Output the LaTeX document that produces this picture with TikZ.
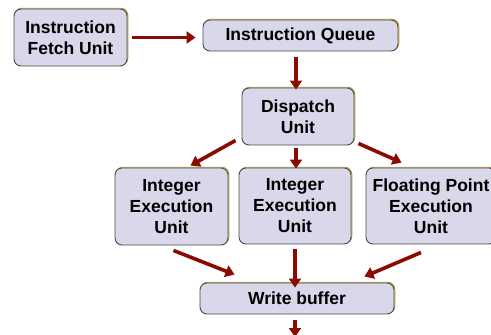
\documentclass[tikz,border=0pt]{standalone}
\usepackage{fontspec}
\setmainfont{Liberation Sans}
\usetikzlibrary{arrows.meta}
\definecolor{boxfill}{HTML}{D8D8EA}
\definecolor{boxedge}{HTML}{4A4A4A}
\definecolor{boxgold}{HTML}{B8962E}
\definecolor{arrowred}{HTML}{8B0A00}
\tikzset{
  unitbox/.style={draw=boxedge, line width=0.9pt, fill=boxfill, rounded corners=7pt,
    font=\fontsize{17.5}{21}\selectfont\bfseries, align=center, inner sep=0pt,
    preaction={draw=boxgold, line width=0.9pt, transform canvas={xshift=0.8pt,yshift=0.8pt}}},
  flow/.style={draw=arrowred, line width=3.6pt, -{Triangle[width=12pt,length=9pt]}, shorten >=0pt}
}
\begin{document}
\begin{tikzpicture}[x=1pt,y=1pt]
\useasboundingbox (0,0) rectangle (491,-335);
\node[unitbox, minimum width=113pt, minimum height=57pt] (fetch) at (70.5,-37.5) {Instruction\\Fetch Unit};
\node[unitbox, minimum width=195pt, minimum height=31pt] (queue) at (300.5,-35.5) {Instruction Queue};
\node[unitbox, minimum width=112pt, minimum height=57pt] (disp) at (298,-116.5) {Dispatch\\Unit};
\node[unitbox, minimum width=113pt, minimum height=77pt] (int1) at (171.5,-206.5) {Integer\\Execution\\Unit};
\node[unitbox, minimum width=112pt, minimum height=76pt] (int2) at (295,-206) {Integer\\Execution\\Unit};
\node[unitbox, minimum width=130pt, minimum height=76pt] (fp) at (431,-206) {Floating Point\\Execution\\Unit};
\node[unitbox, minimum width=194pt, minimum height=31pt] (wb) at (297,-298.5) {Write buffer};
\coordinate (out) at (295,-337);

\draw[flow] ([xshift=5pt]fetch.east) -- ([xshift=-7pt]fetch.east -| queue.west);
\draw[flow] ([yshift=-6pt]queue.south -| disp.north) ++(-2,0) coordinate (qa) -- ([yshift=-2pt]qa |- disp.north);
\draw[flow] ([xshift=-6pt,yshift=5pt]disp.south west) -- ([xshift=76pt,yshift=2pt]int1.north west);
\draw[flow] ([xshift=-2pt,yshift=-3pt]disp.south) -- ([xshift=-2pt,yshift=-1pt]disp.south |- int2.north);
\draw[flow] ([xshift=4pt,yshift=2pt]disp.south east) -- ([xshift=36pt,yshift=5pt]fp.north west);
\draw[flow] ([xshift=2pt,yshift=-5pt]int1.south) -- ([xshift=35pt,yshift=8pt]wb.north west);
\draw[flow] ([yshift=-5pt]int2.south) -- ([yshift=-5pt]int2.south |- wb.north);
\draw[flow] ([xshift=-10pt,yshift=-8pt]fp.south) -- ([xshift=-30pt,yshift=6pt]wb.north east);
\draw[flow] ([xshift=-2pt,yshift=-6pt]wb.south) -- ([xshift=-2pt]wb.south |- out);
\end{tikzpicture}
\end{document}
